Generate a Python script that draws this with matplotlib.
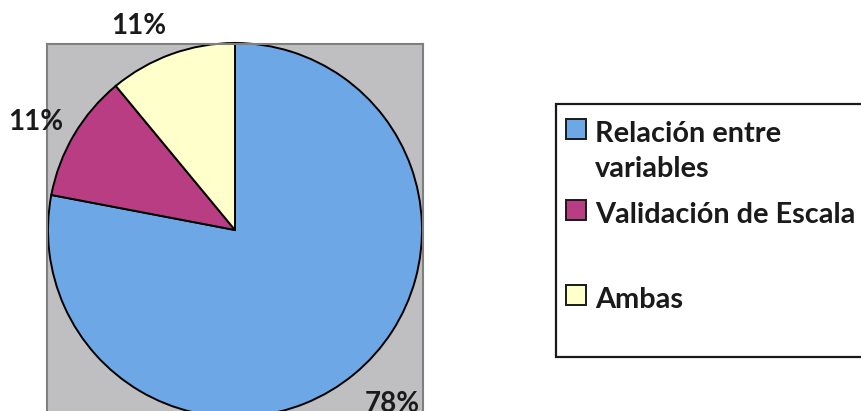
import matplotlib
matplotlib.use("Agg")
import numpy as np
import matplotlib.pyplot as plt
from matplotlib.patches import Rectangle

# Data
categories = ["Relación entre\nvariables", "Validación de Escala", "Ambas"]
shares = [78, 11, 11]
colors = ["#6EA7E6", "#B83D83", "#FFFFCC"]

W, H = 862, 411
FONT = "Lato"
plt.rcParams["font.family"] = [FONT, "DejaVu Sans"]

fig = plt.figure(figsize=(W / 100, H / 100), dpi=100)
fig.patch.set_facecolor("white")


def fx(px):
    return px / W


def fy(py):
    return 1 - py / H


# Plot area (grey square holding the pie)
left, right, top, bottom = 47, 423, 44, 416
r_px = 187
ax = fig.add_axes([fx(left), fy(bottom), (right - left) / W, (bottom - top) / H])
wedges, _ = ax.pie(
    shares,
    colors=colors,
    startangle=90,
    counterclock=False,
    radius=1,
    frame=True,
    wedgeprops=dict(edgecolor="black", linewidth=1.4),
)
ax.set_aspect("auto")
ax.set_xlim(-(right - left) / 2 / r_px, (right - left) / 2 / r_px)
ax.set_ylim(-(bottom - top) / 2 / r_px, (bottom - top) / 2 / r_px)
ax.set_facecolor("#BFBFC1")
ax.set_xticks([])
ax.set_yticks([])
for s in ax.spines.values():
    s.set_edgecolor("#7F7F7F")
    s.set_linewidth(1.5)

# Percentage labels outside each slice
label_offsets = [(13, 0), (-4, -7), (-20, -9)]
for w, share, off in zip(wedges, shares, label_offsets):
    theta = np.deg2rad((w.theta1 + w.theta2) / 2)
    ax.annotate(
        f"{share}%",
        (1.21 * np.cos(theta), 1.21 * np.sin(theta)),
        xytext=off,
        textcoords="offset pixels",
        ha="center",
        va="center",
        fontsize=20,
        fontweight="bold",
        color="#1A1A1A",
        annotation_clip=False,
    )

# Legend box
fig.add_artist(
    Rectangle(
        (fx(556), fy(357)), 400 / W, (357 - 104) / H,
        transform=fig.transFigure, facecolor="white",
        edgecolor="#1A1A1A", linewidth=1.6,
    )
)
entry_baselines = [142, 223, 308]
line_step = 35
for label, col, base in zip(categories, colors, entry_baselines):
    hy = base - 13
    fig.add_artist(
        Rectangle(
            (fx(566), fy(hy + 10)), 20 / W, 20 / H,
            transform=fig.transFigure, facecolor=col,
            edgecolor="#1A1A1A", linewidth=1.4,
        )
    )
    for i, line in enumerate(label.split("\n")):
        fig.text(
            fx(595), fy(base + i * line_step), line,
            ha="left", va="baseline", fontsize=20.8,
            fontweight="bold", color="#1A1A1A",
        )

fig.savefig("out.png", dpi=100)
